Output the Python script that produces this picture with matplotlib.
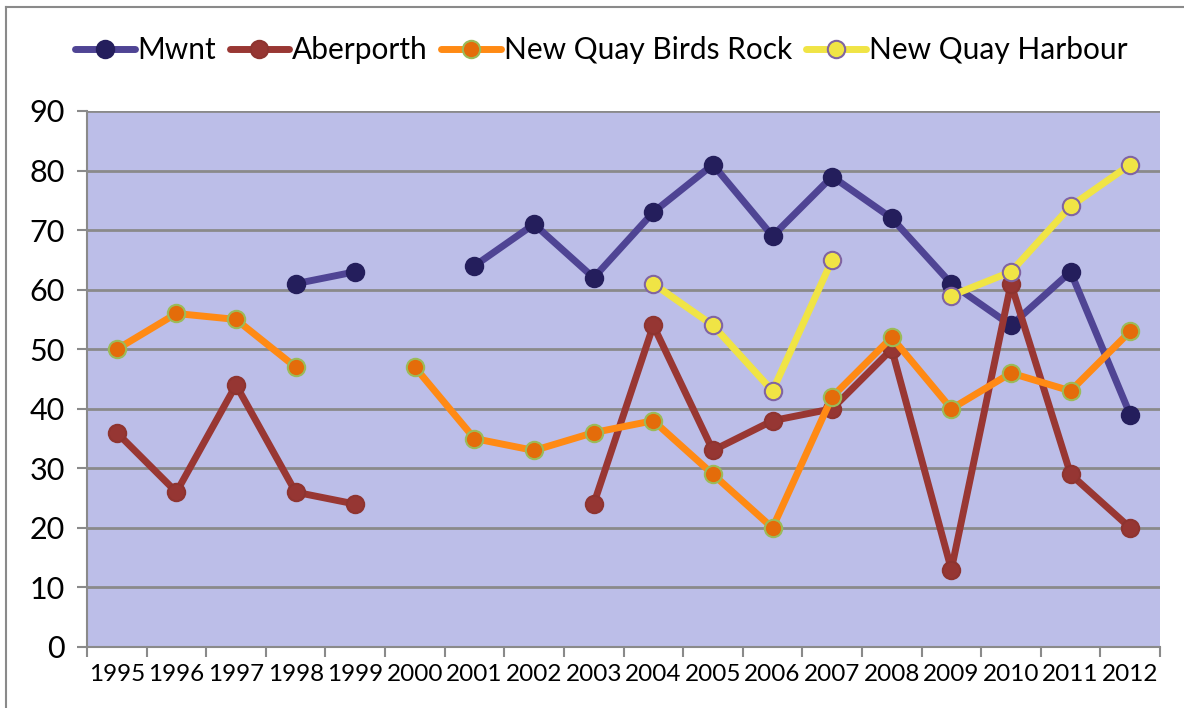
import numpy as np
import matplotlib.pyplot as plt
from matplotlib.lines import Line2D

years = [str(y) for y in range(1995, 2013)]
nan = np.nan

mwnt = [nan, nan, nan, 61, 63, nan, 64, 71, 62, 73, 81, 69, 79, 72, 61, 54, 63, 39]
aberporth = [36, 26, 44, 26, 24, nan, nan, nan, 24, 54, 33, 38, 40, 50, 13, 61, 29, 20]
birds_rock = [50, 56, 55, 47, nan, 47, 35, 33, 36, 38, 29, 20, 42, 52, 40, 46, 43, 53]
harbour = [nan, nan, nan, nan, nan, nan, nan, nan, nan, 61, 54, 43, 65, nan, 59, 63, 74, 81]

series = [
    ("Mwnt", mwnt, "#4F4494", "#241E5C", "#241E5C"),
    ("Aberporth", aberporth, "#993733", "#963633", "#8E3430"),
    ("New Quay Birds Rock", birds_rock, "#FF8A14", "#E46C0A", "#9BBB59"),
    ("New Quay Harbour", harbour, "#F0E445", "#F0E445", "#8064A2"),
]

plt.rcParams['font.family'] = ['Lato', 'DejaVu Sans']

fig = plt.figure(figsize=(11.84, 7.08), dpi=100)
ax = fig.add_axes([87 / 1184, 1 - 647 / 708, (1160 - 87) / 1184, (647 - 111) / 708])
ax.set_facecolor("#BCBEE8")

x = np.arange(len(years))
handles = []
for name, vals, lc, mfc, mec in series:
    ax.plot(x, vals, color=lc, lw=5, marker="o", ms=12.5, mfc=mfc, mec=mec,
            mew=1.5, solid_capstyle="round", zorder=3)
    handles.append(Line2D([], [], color=lc, lw=5, marker="o", ms=12.5, mfc=mfc,
                          mec=mec, mew=1.5, solid_capstyle="round"))

ax.set_xlim(-0.5, len(years) - 0.5)
ax.set_ylim(0, 90)
ax.set_yticks(range(0, 91, 10))
ax.yaxis.grid(True, color="#8A8A8A", lw=2)
ax.set_axisbelow(True)

ax.set_xticks(np.arange(-0.5, len(years)), labels=[])
ax.set_xticks(x, labels=years, minor=True)
ax.tick_params(axis="x", which="major", length=7, width=1.5, color="#8A8A8A")
ax.tick_params(axis="x", which="minor", length=0, pad=12, labelsize=17.5)
ax.tick_params(axis="y", length=7, width=1.5, color="#8A8A8A", labelsize=22, pad=9)

for s in ["top", "right"]:
    ax.spines[s].set_visible(False)
for s in ["left", "bottom"]:
    ax.spines[s].set_color("#8A8A8A")
    ax.spines[s].set_linewidth(1.5)

fig.legend(handles, [s[0] for s in series], loc="center", bbox_to_anchor=(601 / 1184, 1 - 50 / 708),
           ncol=4, frameon=False, fontsize=21.5, handlelength=2.0, handletextpad=0.1,
           columnspacing=0.45)

# chart border (only top and left visible)
fig.add_artist(Line2D([6 / 1184, 1], [1 - 7 / 708, 1 - 7 / 708], color="#8A8A8A", lw=1.5,
                      transform=fig.transFigure))
fig.add_artist(Line2D([6 / 1184, 6 / 1184], [0, 1 - 7 / 708], color="#8A8A8A", lw=1.5,
                      transform=fig.transFigure))

fig.savefig("out.png", dpi=100)
